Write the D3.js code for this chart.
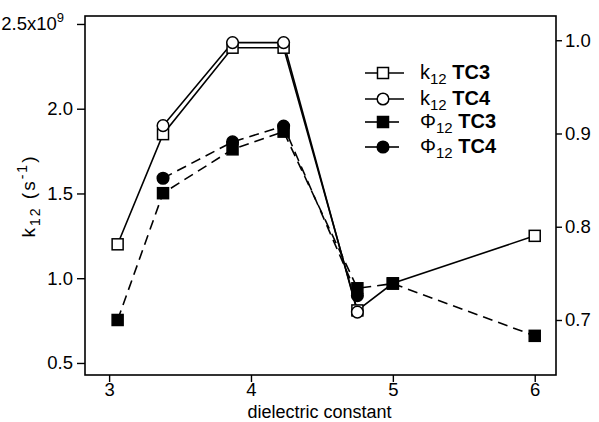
<!DOCTYPE html>
<html>
<head>
<meta charset="utf-8">
<script src="https://cdn.jsdelivr.net/npm/d3@7"></script>
<style>
  html, body { margin: 0; padding: 0; background: #fff; }
  svg { display: block; font-family: "Liberation Sans", Arial, Helvetica, sans-serif; }
</style>
</head>
<body>
<svg id="chart" width="599" height="422"></svg>
<script>
// Dielectric constant of each solvent
const dielectric = [3.06, 3.38, 3.87, 4.23, 4.75, 5.0, 6.0];

// k12 rate constants (units of 1e9 s^-1), left axis
const k12TC3 = [1.20, 1.85, 2.36, 2.36, 0.81, 0.97, 1.25];
const k12TC4 = [null, 1.90, 2.39, 2.39, 0.80, null, null];

// Phi12 yields, right axis
const phiTC3 = [0.700, 0.836, 0.883, 0.902, 0.734, 0.739, 0.683];
const phiTC4 = [null, 0.852, 0.891, 0.908, 0.726, null, null];

// Axis ticks
const xTicks = [3, 4, 5, 6];
const leftTicks = [0.5, 1.0, 1.5, 2.0, 2.5];
const rightTicks = [0.7, 0.8, 0.9, 1.0];

const svg = d3.select("#chart");
const frame = { left: 85, right: 556, top: 16, bottom: 375 };

const x = d3.scaleLinear().domain([2.83, 6.15]).range([frame.left, frame.right]);
const yL = d3.scaleLinear().domain([0.429, 2.547]).range([frame.bottom, frame.top]);
const yR = d3.scaleLinear().domain([0.641, 1.026]).range([frame.bottom, frame.top]);

const TICK_FS = 18.5;

// plot frame
svg.append("rect")
  .attr("x", frame.left).attr("y", frame.top)
  .attr("width", frame.right - frame.left).attr("height", frame.bottom - frame.top)
  .attr("fill", "none").attr("stroke", "#000").attr("stroke-width", 1.6);

// axes
const fmt1 = d3.format(".1f");
const xAxis = d3.axisBottom(x).tickValues(xTicks).tickFormat(d3.format("d")).tickSize(7).tickPadding(1);
const lAxis = d3.axisLeft(yL).tickValues(leftTicks).tickFormat(d => d === 2.5 ? "" : fmt1(d)).tickSize(8).tickPadding(4);
const rAxis = d3.axisRight(yR).tickValues(rightTicks).tickFormat(fmt1).tickSize(6).tickPadding(3);

function styleAxis(g) {
  g.select(".domain").remove();
  g.selectAll(".tick line").attr("stroke", "#000").attr("stroke-width", 1.4);
  g.selectAll(".tick text").attr("fill", "#000").style("font-size", TICK_FS + "px")
    .style("font-family", "'Liberation Sans', Arial, Helvetica, sans-serif");
}

svg.append("g").attr("transform", `translate(0,${frame.bottom})`).call(xAxis).call(styleAxis);
svg.append("g").attr("transform", `translate(${frame.left},0)`).call(lAxis).call(styleAxis);
svg.append("g").attr("transform", `translate(${frame.right},0)`).call(rAxis).call(styleAxis);

// top left tick label with exponent
const topLab = svg.append("text")
  .attr("x", 64).attr("y", yL(2.5) + 6)
  .attr("text-anchor", "end").style("font-size", TICK_FS + "px");
topLab.append("tspan").text("2.5x10");
topLab.append("tspan").attr("dy", -8).style("font-size", "13px").text("9");

// axis titles
svg.append("text")
  .attr("x", (frame.left + frame.right) / 2 - 1).attr("y", 418)
  .attr("text-anchor", "middle").style("font-size", "18px")
  .text("dielectric constant");

const yTitle = svg.append("text")
  .attr("transform", `translate(35,196) rotate(-90)`)
  .attr("text-anchor", "middle").style("font-size", "19px")
  .style("letter-spacing", "2px");
yTitle.append("tspan").text("k");
yTitle.append("tspan").attr("dy", 5).style("font-size", "14px").text("12");
yTitle.append("tspan").attr("dy", -5).text(" (s");
yTitle.append("tspan").attr("dy", -8).style("font-size", "14px").text("-1");
yTitle.append("tspan").attr("dy", 8).text(")");

// series definitions
const series = [
  { name: "TC3", label: "k", values: k12TC3, y: yL, dash: null, marker: "square", fill: "#fff" },
  { name: "TC4", label: "k", values: k12TC4, y: yL, dash: null, marker: "circle", fill: "#fff" },
  { name: "TC3", label: "\u03A6", values: phiTC3, y: yR, dash: "10,6", marker: "square", fill: "#000" },
  { name: "TC4", label: "\u03A6", values: phiTC4, y: yR, dash: "10,6", marker: "circle", fill: "#000" }
];

function drawMarker(g, type, fill, cx, cy) {
  if (type === "square") {
    g.append("rect").attr("x", cx - 5.5).attr("y", cy - 5.5).attr("width", 11).attr("height", 11)
      .attr("fill", fill).attr("stroke", "#000").attr("stroke-width", 1.5);
  } else {
    g.append("circle").attr("cx", cx).attr("cy", cy).attr("r", 5.8)
      .attr("fill", fill).attr("stroke", "#000").attr("stroke-width", 1.5);
  }
}

const plot = svg.append("g");

series.forEach(s => {
  const pts = dielectric.map((d, i) => ({ x: d, v: s.values[i] })).filter(p => p.v !== null);
  const line = d3.line().x(p => x(p.x)).y(p => s.y(p.v));
  plot.append("path").datum(pts).attr("d", line)
    .attr("fill", "none").attr("stroke", "#000").attr("stroke-width", 1.6)
    .attr("stroke-dasharray", s.dash);
});

series.forEach(s => {
  const g = plot.append("g");
  dielectric.forEach((d, i) => {
    if (s.values[i] === null) return;
    drawMarker(g, s.marker, s.fill, x(d), s.y(s.values[i]));
  });
});

// legend
const legend = svg.append("g");
const rowY = [73, 99, 122, 147];
series.forEach((s, i) => {
  const yy = rowY[i];
  if (s.dash) {
    legend.append("line").attr("x1", 365).attr("x2", 377).attr("y1", yy).attr("y2", yy)
      .attr("stroke", "#000").attr("stroke-width", 1.6);
    legend.append("line").attr("x1", 389).attr("x2", 399).attr("y1", yy).attr("y2", yy)
      .attr("stroke", "#000").attr("stroke-width", 1.6);
  } else {
    legend.append("line").attr("x1", 365).attr("x2", 404).attr("y1", yy).attr("y2", yy)
      .attr("stroke", "#000").attr("stroke-width", 1.6);
  }
  drawMarker(legend, s.marker, s.fill, 383, yy);
  const t = legend.append("text").attr("x", 420).attr("y", yy + 6).style("font-size", "20px");
  t.append("tspan").text(s.label);
  t.append("tspan").attr("dy", 5).style("font-size", "15px").text("12");
  t.append("tspan").attr("dy", -5).text(" ");
  t.append("tspan").style("font-weight", "bold").text(s.name);
});
</script>
</body>
</html>
